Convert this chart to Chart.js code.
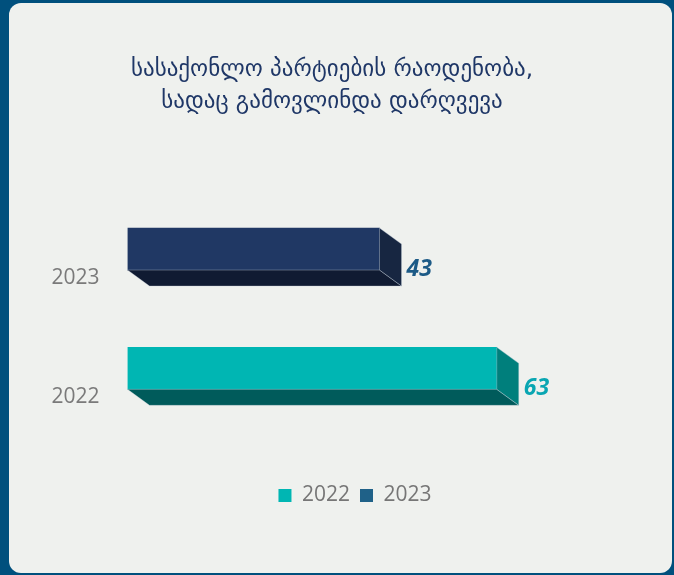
<!DOCTYPE html>
<html>
<head>
<meta charset="utf-8">
<script src="https://cdn.jsdelivr.net/npm/chart.js@4/dist/chart.umd.min.js"></script>
<style>
  html, body { margin: 0; padding: 0; }
  body { width: 674px; height: 575px; background: #00507d; position: relative; overflow: hidden; }
  #panel { position: absolute; left: 9px; top: 3px; width: 663px; height: 570px; background: #eff1ee; border-radius: 12px; overflow: hidden; }
  #chart { display: block; }
</style>
</head>
<body>
<div id="panel"><canvas id="chart" width="663" height="570"></canvas></div>
<script>
// ---- data ----
const titleLines = ['სასაქონლო პარტიების რაოდენობა,', 'სადაც გამოვლინდა დარღვევა'];
const categories = ['2023', '2022'];
const seriesNames = ['2022', '2023'];
const values2022 = [null, 63];
const values2023 = [43, null];

// ---- styles ----
const frontColors = ['#00b6b3', '#203864'];
const bottomColors = ['#005b5b', '#101b32'];
const sideColors = ['#007f7c', '#172641'];
const legendColors = ['#00b6b3', '#1f6188'];
const labelColors = ['#09a6b2', '#1c5a86'];
const DX = 22, DY = 16;
const LEGEND_SHIFT = 23;

const legendShift = {
  id: 'legendShift',
  afterLayout(chart) {
    if (chart.legend) { chart.legend.left += LEGEND_SHIFT; chart.legend.right += LEGEND_SHIFT; }
  }
};

const depthPlugin = {
  id: 'depth3d',
  afterDatasetsDraw(chart) {
    const ctx = chart.ctx;
    chart.data.datasets.forEach((ds, di) => {
      const meta = chart.getDatasetMeta(di);
      meta.data.forEach((el, i) => {
        if (ds.data[i] == null) return;
        const p = el.getProps(['x', 'y', 'base', 'height'], true);
        const top = p.y - p.height / 2, bottom = p.y + p.height / 2;
        const left = Math.min(p.base, p.x), right = Math.max(p.base, p.x);
        ctx.save();
        ctx.lineWidth = 0.8;
        ctx.strokeStyle = 'rgba(200,210,220,0.45)';
        // bottom face
        ctx.beginPath();
        ctx.moveTo(left, bottom);
        ctx.lineTo(right, bottom);
        ctx.lineTo(right + DX, bottom + DY);
        ctx.lineTo(left + DX, bottom + DY);
        ctx.closePath();
        ctx.fillStyle = bottomColors[di];
        ctx.fill();
        ctx.stroke();
        // right face
        ctx.beginPath();
        ctx.moveTo(right, top);
        ctx.lineTo(right + DX, top + DY);
        ctx.lineTo(right + DX, bottom + DY);
        ctx.lineTo(right, bottom);
        ctx.closePath();
        ctx.fillStyle = sideColors[di];
        ctx.fill();
        ctx.stroke();
        // value label
        ctx.fillStyle = labelColors[di];
        ctx.font = 'italic bold 23px "Open Sans", "Liberation Sans", sans-serif';
        ctx.textAlign = 'left';
        ctx.textBaseline = 'middle';
        ctx.fillText(String(ds.data[i]), right + DX + 5, p.y + 20);
        ctx.restore();
      });
    });
  }
};

new Chart(document.getElementById('chart'), {
  type: 'bar',
  data: {
    labels: categories,
    datasets: [
      { label: seriesNames[0], data: values2022, backgroundColor: frontColors[0], borderWidth: 0, barThickness: 42 },
      { label: seriesNames[1], data: values2023, backgroundColor: frontColors[1], borderWidth: 0, barThickness: 42 }
    ]
  },
  options: {
    indexAxis: 'y',
    responsive: false,
    animation: false,
    skipNull: true,
    layout: { padding: { left: 0, right: 17, top: 0, bottom: 57 } },
    scales: {
      x: {
        min: 0, max: 90,
        grid: { display: false, drawTicks: false },
        border: { display: false },
        ticks: { display: false },
        afterFit(axis) { axis.height = 47; }
      },
      y: {
        grid: { display: false, drawTicks: false },
        border: { display: false },
        ticks: {
          color: '#7a7a7a',
          font: { family: '"Open Sans", sans-serif', size: 21 },
          padding: 28,
          labelOffset: 29
        },
        afterFit(axis) { axis.width = 118.5; }
      }
    },
    plugins: {
      title: {
        display: true,
        text: titleLines,
        color: '#1f3767',
        font: { family: '"DejaVu Sans", sans-serif', size: 23, weight: 'normal', lineHeight: 1.4 },
        padding: { top: 51, bottom: 71 }
      },
      legend: {
        position: 'bottom',
        labels: {
          color: '#767676',
          font: { family: '"Open Sans", sans-serif', size: 21 },
          boxWidth: 13,
          boxHeight: 13,
          padding: 10,
          generateLabels(chart) {
            const items = Chart.defaults.plugins.legend.labels.generateLabels(chart);
            items.forEach((it, i) => { it.fillStyle = legendColors[i]; it.strokeStyle = legendColors[i]; it.lineWidth = 0; });
            return items;
          }
        }
      },
      tooltip: { enabled: false }
    }
  },
  plugins: [depthPlugin, legendShift]
});
</script>
</body>
</html>
